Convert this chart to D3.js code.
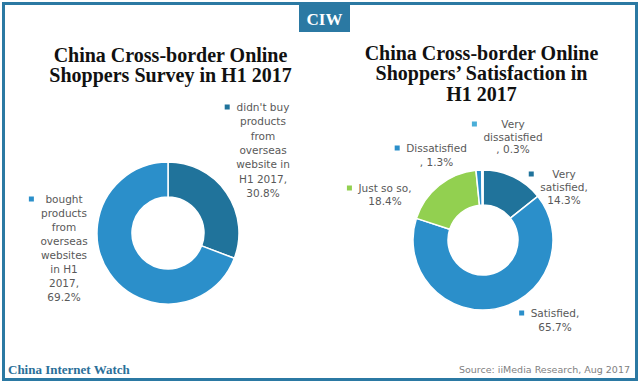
<!DOCTYPE html>
<html>
<head>
<meta charset="utf-8">
<script src="https://cdn.jsdelivr.net/npm/d3@7"></script>
<style>
  html, body { margin: 0; padding: 0; background: #fff; }
  svg { display: block; }
</style>
</head>
<body>
<div id="chart"></div>
<script>
// ---------------- DATA ----------------
const surveyCategories = ["didn't buy products from overseas website in H1 2017", "bought products from overseas websites in H1 2017"];
const surveyValues = [30.8, 69.2];
const surveyLabelLines = [
  ["didn't buy", "products", "from", "overseas", "website in", "H1 2017,", "30.8%"],
  ["bought", "products", "from", "overseas", "websites", "in H1", "2017,", "69.2%"]
];

const satisfactionCategories = ["Very satisfied", "Satisfied", "Just so so", "Dissatisfied", "Very dissatisfied"];
const satisfactionValues = [14.3, 65.7, 18.4, 1.3, 0.3];
const satisfactionLabelLines = [
  ["Very", "satisfied,", "14.3%"],
  ["Satisfied,", "65.7%"],
  ["Just so so,", "18.4%"],
  ["Dissatisfied", ", 1.3%"],
  ["Very", "dissatisfied", ", 0.3%"]
];

const leftTitle = ["China Cross-border Online", "Shoppers Survey in H1 2017"];
const rightTitle = ["China Cross-border Online", "Shoppers\u2019 Satisfaction in", "H1 2017"];
const brandText = "CIW";
const footerLeft = "China Internet Watch";
const footerRight = "Source: iiMedia Research, Aug 2017";

// ---------------- LAYOUT / STYLE ----------------
const W = 640, H = 383;
const frameColor = "#2b79a3";
const surveyColors = ["#20739b", "#2b8fca"];
const satisfactionColors = ["#20739b", "#2b8fca", "#92d050", "#2b8fca", "#4aaed8"];
const labelFont = "'DejaVu Sans', sans-serif";
const serifFont = "'Liberation Serif', 'Times New Roman', serif";

const leftDonut = { cx: 168, cy: 233, outer: 71, inner: 36 };
const rightDonut = { cx: 483, cy: 240, outer: 70, inner: 35 };

// label anchors: centre x, centre y of first line, line height
const surveyLabelPos = [
  { cx: 263, cy: 107, lh: 14.4 },
  { cx: 64, cy: 199, lh: 14.0 }
];
const satisfactionLabelPos = [
  { cx: 564, cy: 174, lh: 13.2 },
  { cx: 555, cy: 313, lh: 14.0 },
  { cx: 385, cy: 188, lh: 13.5 },
  { cx: 436.5, cy: 148, lh: 14.0 },
  { cx: 513, cy: 124, lh: 12.8 }
];

// ---------------- DRAW ----------------
const svg = d3.select("#chart").append("svg")
  .attr("width", W).attr("height", H);

svg.append("rect").attr("x", 0).attr("y", 0).attr("width", W).attr("height", H).attr("fill", "#fff");

// frame
svg.append("rect")
  .attr("x", 3.5).attr("y", 3.5).attr("width", W - 7).attr("height", H - 7)
  .attr("fill", "none").attr("stroke", frameColor).attr("stroke-width", 3);

// CIW badge
svg.append("rect").attr("x", 299).attr("y", 3).attr("width", 51).attr("height", 29).attr("fill", frameColor);
svg.append("text").attr("x", 324.5).attr("y", 25)
  .attr("text-anchor", "middle").attr("fill", "#fff")
  .attr("font-family", serifFont).attr("font-weight", "bold").attr("font-size", 17)
  .text(brandText);

// titles
function drawTitle(lines, cx, y0, lh) {
  const t = svg.append("text").attr("text-anchor", "middle")
    .attr("font-family", serifFont).attr("font-weight", "bold")
    .attr("font-size", 20).attr("fill", "#111");
  lines.forEach((l, i) => t.append("tspan").attr("x", cx).attr("y", y0 + i * lh).text(l));
}
drawTitle(leftTitle, 170.5, 61.5, 20.2);
drawTitle(rightTitle, 481.5, 59.5, 20.5);

// donuts
function drawDonut(cfg, values, colors) {
  const pie = d3.pie().sort(null).value(d => d);
  const arc = d3.arc().innerRadius(cfg.inner).outerRadius(cfg.outer);
  const g = svg.append("g").attr("transform", `translate(${cfg.cx},${cfg.cy})`);
  g.selectAll("path").data(pie(values)).join("path")
    .attr("d", arc)
    .attr("fill", (d, i) => colors[i])
    .attr("stroke", "#fff").attr("stroke-width", 1.5).attr("stroke-linejoin", "round");
}
drawDonut(leftDonut, surveyValues, surveyColors);
drawDonut(rightDonut, satisfactionValues, satisfactionColors);

// labels
function drawLabels(linesArr, posArr, colors) {
  linesArr.forEach((lines, i) => {
    const p = posArr[i];
    const g = svg.append("g");
    const t = g.append("text").attr("text-anchor", "middle")
      .attr("font-family", labelFont).attr("font-size", 10.5).attr("fill", "#595959");
    const spans = lines.map((l, j) => t.append("tspan")
      .attr("x", p.cx).attr("y", p.cy + 3.8 + j * p.lh).text(l));
    const maxW = d3.max(spans, s => s.node().getComputedTextLength());
    g.append("rect")
      .attr("x", p.cx - maxW / 2 - 11.5).attr("y", p.cy - 2.5)
      .attr("width", 5).attr("height", 5).attr("fill", colors[i]);
  });
}
drawLabels(surveyLabelLines, surveyLabelPos, surveyColors);
drawLabels(satisfactionLabelLines, satisfactionLabelPos, satisfactionColors);

// footer
svg.append("text").attr("x", 8).attr("y", 374)
  .attr("font-family", serifFont).attr("font-weight", "bold").attr("font-size", 13)
  .attr("fill", "#2a6f99").text(footerLeft);
svg.append("text").attr("x", 630).attr("y", 373).attr("text-anchor", "end")
  .attr("font-family", labelFont).attr("font-size", 9.5)
  .attr("fill", "#7f7f7f").text(footerRight);
</script>
</body>
</html>
